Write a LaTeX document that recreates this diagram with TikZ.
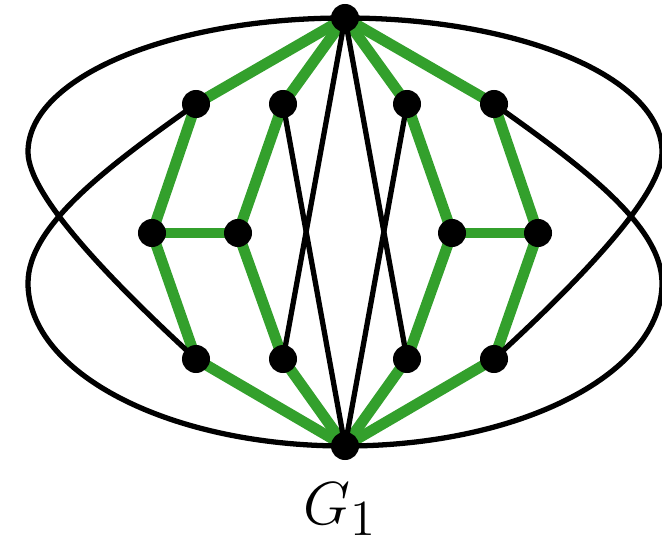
\documentclass[tikz,border=0pt]{standalone}
\usetikzlibrary{backgrounds}
\definecolor{pathgreen}{RGB}{51,160,44}
\begin{document}
\begin{tikzpicture}[x=0.01cm, y=-0.01cm,
  vertex/.style={circle, fill=black, inner sep=0pt, minimum size=0.28cm},
  greenedge/.style={pathgreen, line width=3.1pt},
  blackedge/.style={black, line width=1.5pt}]
  \useasboundingbox (0,0) rectangle (662,543);

  % Top and bottom vertices
  \node[vertex] (t) at (345,18) {};
  \node[vertex] (b) at (345,446) {};

  % Upper row
  \node[vertex] (u1) at (196,104) {};
  \node[vertex] (u2) at (283,104) {};
  \node[vertex] (u3) at (407,104) {};
  \node[vertex] (u4) at (494,104) {};

  % Middle row
  \node[vertex] (m1) at (152,233) {};
  \node[vertex] (m2) at (238,233) {};
  \node[vertex] (m3) at (452,233) {};
  \node[vertex] (m4) at (538,233) {};

  % Lower row
  \node[vertex] (l1) at (196,359) {};
  \node[vertex] (l2) at (283,359) {};
  \node[vertex] (l3) at (407,359) {};
  \node[vertex] (l4) at (494,359) {};

  % Label
  \node[anchor=base, inner sep=0pt] (name) at (340,524) {\fontsize{19}{23}\selectfont $G_1$};

  % Outer turning points of the loops
  \coordinate (wl1) at (28,152);
  \coordinate (wl2) at (28,283);
  \coordinate (wr1) at (662,152);
  \coordinate (wr2) at (662,283);

  \begin{scope}[on background layer]
    % Green edges
    \draw[greenedge] (t.center) -- (u1.center) -- (m1.center) -- (l1.center) -- (b.center);
    \draw[greenedge] (t.center) -- (u2.center) -- (m2.center) -- (l2.center) -- (b.center);
    \draw[greenedge] (t.center) -- (u3.center) -- (m3.center) -- (l3.center) -- (b.center);
    \draw[greenedge] (t.center) -- (u4.center) -- (m4.center) -- (l4.center) -- (b.center);
    \draw[greenedge] (m1.center) -- (m2.center);
    \draw[greenedge] (m3.center) -- (m4.center);

    % Black crossing edges
    \draw[blackedge] (u2.center) -- (b.center);
    \draw[blackedge] (l2.center) -- (t.center);
    \draw[blackedge] (u3.center) -- (b.center);
    \draw[blackedge] (l3.center) -- (t.center);

    % Left loops
    \draw[blackedge] (t.center) .. controls (169,18) and (28,78) .. (wl1)
      .. controls (28,195) and (110,280) .. (l1.center);
    \draw[blackedge] (u1.center) .. controls (110,165) and (28,225) .. (wl2)
      .. controls (28,373) and (169,446) .. (b.center);

    % Right loops
    \draw[blackedge] (t.center) .. controls (521,18) and (662,78) .. (wr1)
      .. controls (662,195) and (580,280) .. (l4.center);
    \draw[blackedge] (u4.center) .. controls (580,165) and (662,225) .. (wr2)
      .. controls (662,373) and (521,446) .. (b.center);
  \end{scope}
\end{tikzpicture}
\end{document}
